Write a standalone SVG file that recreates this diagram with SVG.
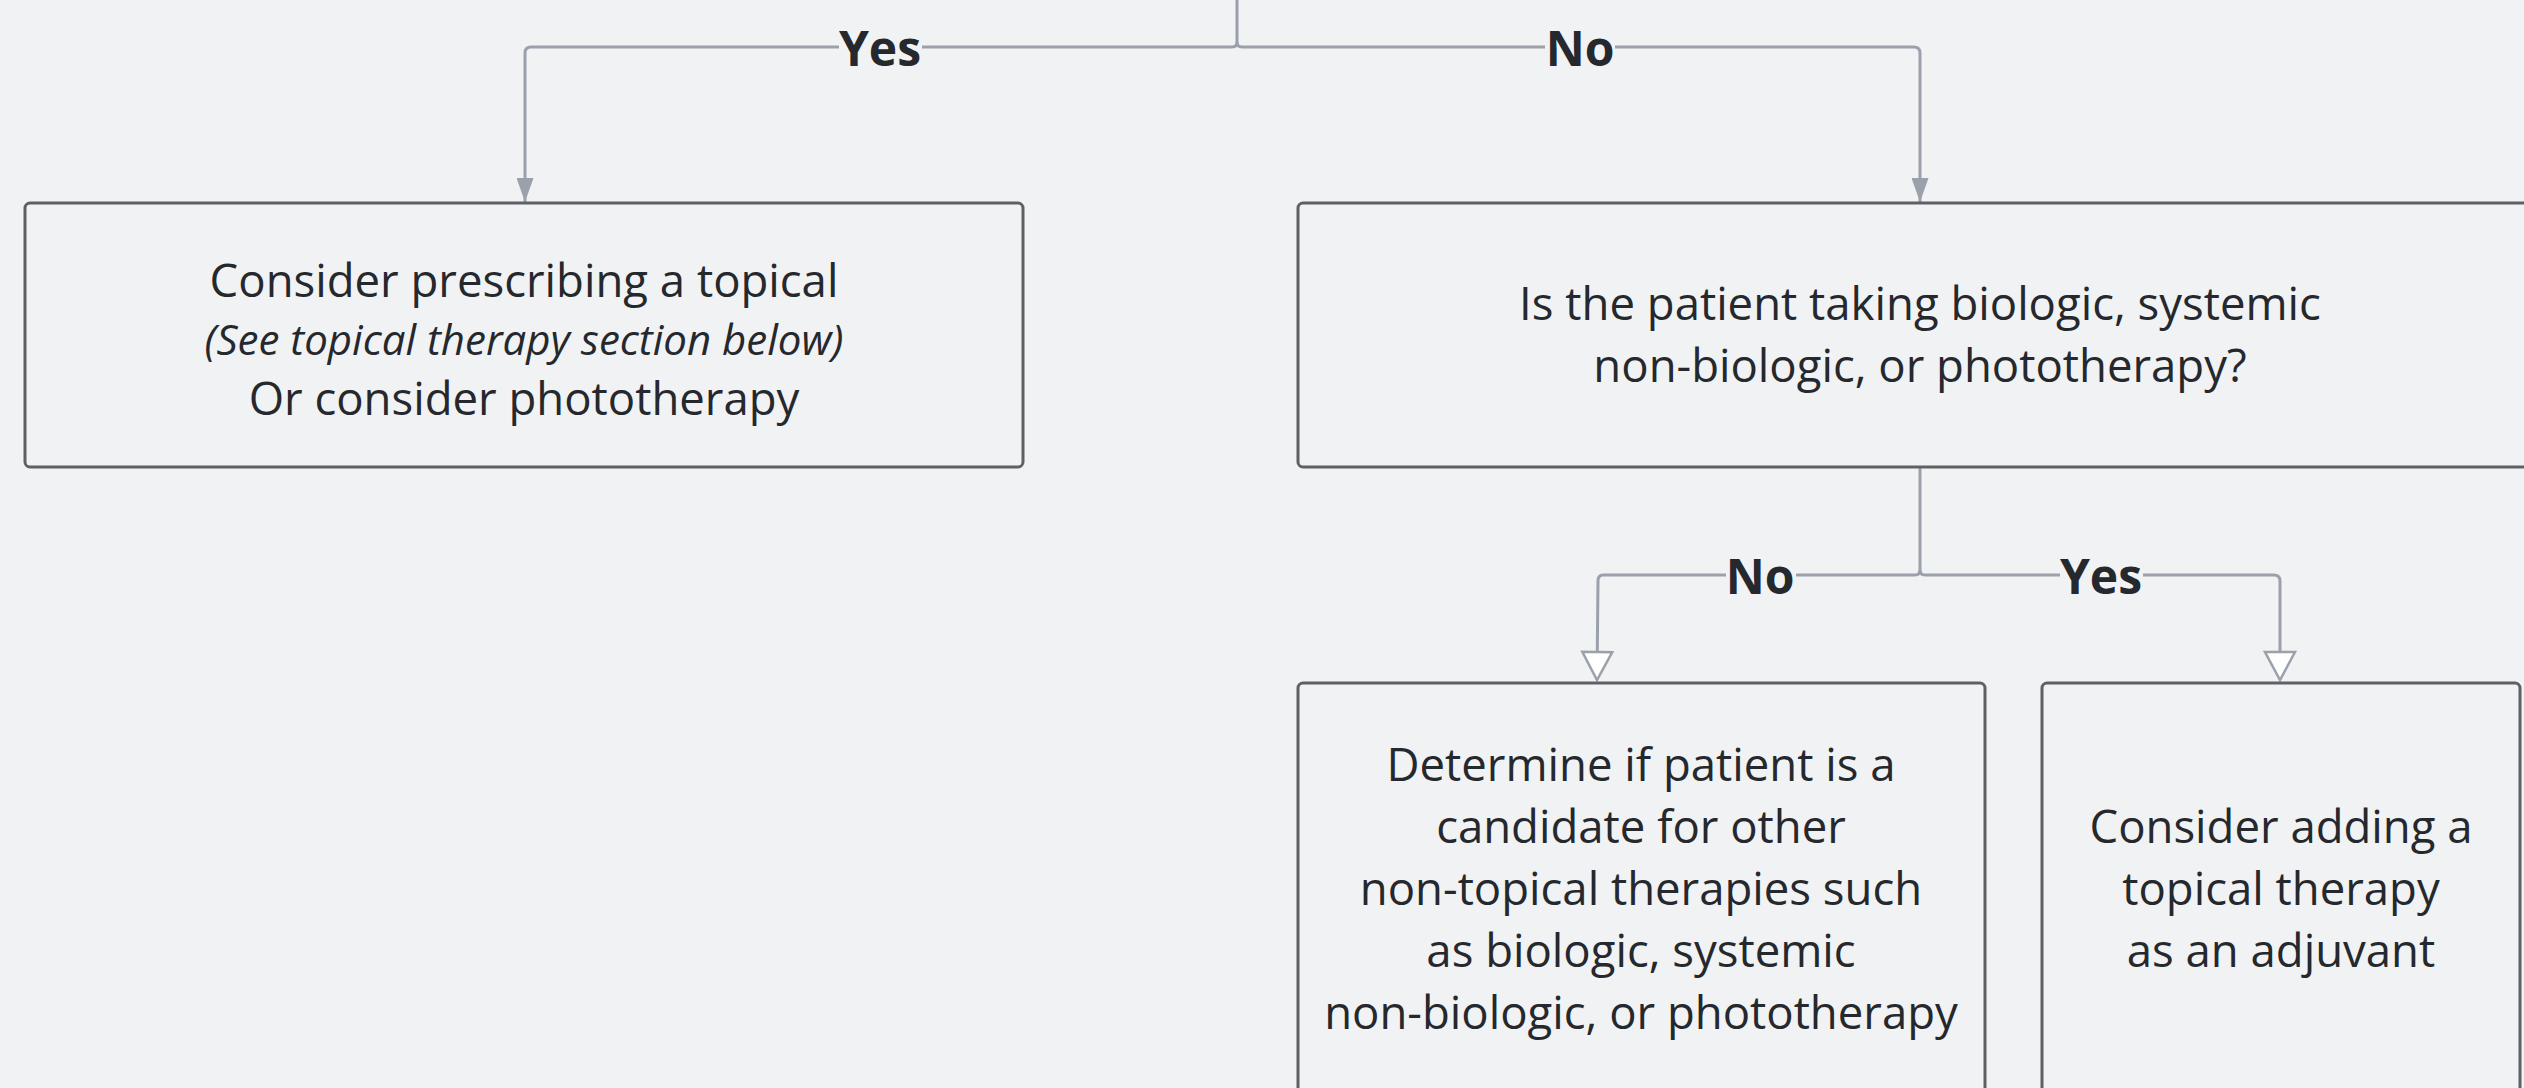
<svg xmlns="http://www.w3.org/2000/svg" width="2524" height="1088" viewBox="0 0 2524 1088">
<style>
.bg{fill:#f1f2f4}
.node rect{fill:#f1f2f4;stroke:#5e6064;stroke-width:3}
.t{font-family:"Open Sans","Liberation Sans",sans-serif;font-size:45.5px;fill:#25282d;text-anchor:middle}
.it{font-style:italic;font-size:42px}
.lbl{font-family:"Open Sans","Liberation Sans",sans-serif;font-size:48px;font-weight:bold;fill:#25282d;text-anchor:middle}
.c{fill:none;stroke:#9ba1ab;stroke-width:3}
.lb{fill:#f1f2f4}
</style>
<defs>
<marker id="af" viewBox="0 0 24 17" refX="24" refY="8.5" markerWidth="24" markerHeight="17" markerUnits="userSpaceOnUse" orient="auto">
<path d="M0,0 L24,8.5 L0,17 Z" fill="#9ba1ab"/>
</marker>
<marker id="ah" viewBox="-2 -2 32 34" refX="28" refY="15" markerWidth="32" markerHeight="34" markerUnits="userSpaceOnUse" orient="auto">
<path d="M0,0 L28,15 L0,30 Z" fill="#ffffff" stroke="#9ba1ab" stroke-width="2.5"/>
</marker>
</defs>
<rect class="bg" x="0" y="0" width="2524" height="1088"/>
<g id="connectors">
<path class="c" d="M1237,0 V42 Q1237,47 1232,47 H531 Q525,47 525,53 V202" marker-end="url(#af)"/>
<path class="c" d="M1237,42 Q1237,47 1242,47 H1914 Q1920,47 1920,53 V202" marker-end="url(#af)"/>
<path class="c" d="M1920,468 V570 Q1920,575 1915,575 H1603 Q1598,575 1598,581 L1597,680" marker-end="url(#ah)"/>
<path class="c" d="M1920,570 Q1920,575 1925,575 H2274 Q2280,575 2280,581 V680" marker-end="url(#ah)"/>
<rect class="lb" x="839" y="30" width="83" height="36"/>
<text class="lbl" x="880" y="66">Yes</text>
<rect class="lb" x="1545" y="30" width="70" height="36"/>
<text class="lbl" x="1580" y="66">No</text>
<rect class="lb" x="1726" y="558" width="70" height="36"/>
<text class="lbl" x="1760" y="594">No</text>
<rect class="lb" x="2060" y="558" width="83" height="36"/>
<text class="lbl" x="2101" y="594">Yes</text>
</g>
<g id="node-topical" class="node">
<rect x="25" y="203" width="998" height="264" rx="5"/>
<text class="t" x="524" y="297">Consider prescribing a topical</text>
<text class="t it" x="524" y="355">(See topical therapy section below)</text>
<text class="t" x="524" y="415">Or consider phototherapy</text>
</g>
<g id="node-question" class="node">
<rect x="1298" y="203" width="1245" height="264" rx="5"/>
<text class="t" x="1920" y="320">Is the patient taking biologic, systemic</text>
<text class="t" x="1920" y="382">non-biologic, or phototherapy?</text>
</g>
<g id="node-candidate" class="node">
<rect x="1298" y="683" width="687" height="440" rx="5"/>
<text class="t" x="1641" y="781">Determine if patient is a</text>
<text class="t" x="1641" y="843">candidate for other</text>
<text class="t" x="1641" y="905">non-topical therapies such</text>
<text class="t" x="1641" y="967">as biologic, systemic</text>
<text class="t" x="1641" y="1029">non-biologic, or phototherapy</text>
</g>
<g id="node-adjuvant" class="node">
<rect x="2042" y="683" width="478" height="440" rx="5"/>
<text class="t" x="2281" y="843">Consider adding a</text>
<text class="t" x="2281" y="905">topical therapy</text>
<text class="t" x="2281" y="967">as an adjuvant</text>
</g>
</svg>
